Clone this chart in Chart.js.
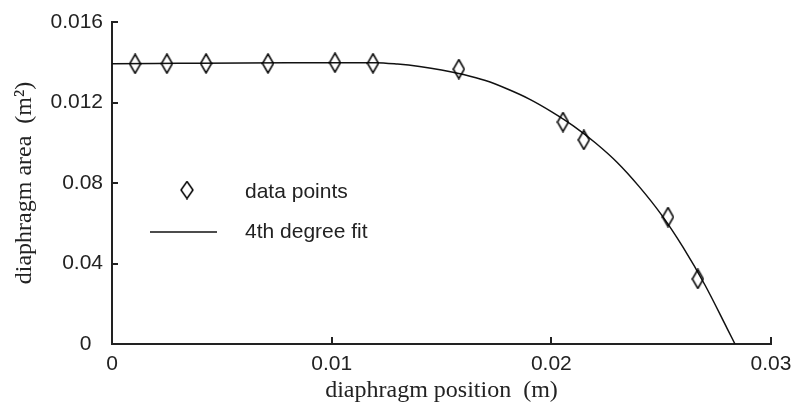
<!DOCTYPE html>
<html lang="en">
<head>
<meta charset="UTF-8">
<title>Diaphragm area vs position</title>
<script src="https://cdn.jsdelivr.net/npm/chart.js"></script>
<style>
  html, body { margin: 0; padding: 0; background: #fff; }
  #wrap { width: 793px; height: 407px; }
</style>
</head>
<body>
<div id="wrap"><canvas id="chart"></canvas></div>
<script>
// measured points
const pointX = [0.00105, 0.0025, 0.00428, 0.0071, 0.01015, 0.01188, 0.01579, 0.02053, 0.02148, 0.02531, 0.02667];
const pointY = [0.01392, 0.01393, 0.01394, 0.01394, 0.01398, 0.01395, 0.01366, 0.01103, 0.01014, 0.00631, 0.00323];

// 4th degree fit
const fitX = [0, 0.002, 0.004, 0.006, 0.008, 0.010, 0.012, 0.013, 0.014, 0.015, 0.016, 0.017, 0.018, 0.019, 0.020,
              0.021, 0.022, 0.023, 0.024, 0.025, 0.026, 0.027, 0.028, 0.02836];
const fitY = [0.01393, 0.01394, 0.01395, 0.01396, 0.01397, 0.01398, 0.01398, 0.01391, 0.01379, 0.01362, 0.01339, 0.01309, 0.01267, 0.01217, 0.01155,
              0.01084, 0.01000, 0.00902, 0.00782, 0.00644, 0.00480, 0.00292, 0.00078, 0];

const xTicks = [0, 0.01, 0.02, 0.03];
const xTickLabels = ['0', '0.01', '0.02', '0.03'];
const yTicks = [0, 0.004, 0.008, 0.012, 0.016];
const yTickLabels = ['0', '0.04', '0.08', '0.012', '0.016'];

const seriesNames = ['data points', '4th degree fit'];

// tall narrow diamond marker
function makeDiamond(w, h) {
    const c = document.createElement('canvas');
    c.width = w + 2;
    c.height = h + 2;
    const g = c.getContext('2d');
    g.strokeStyle = '#000';
    g.lineWidth = 1.5;
    g.beginPath();
    g.moveTo(c.width / 2, 1);
    g.lineTo(c.width - 1, c.height / 2);
    g.lineTo(c.width / 2, c.height - 1);
    g.lineTo(1, c.height / 2);
    g.closePath();
    g.stroke();
    return c;
}
const diamond = makeDiamond(11, 19);
const legendDiamond = makeDiamond(12, 17);

const tickFont = { family: '"Liberation Sans", Arial, sans-serif', size: 21 };
const titleFont = { family: '"Liberation Serif", "Times New Roman", serif', size: 24 };

const inwardTicks = {
    id: 'inwardTicks',
    afterDraw(chart) {
        const ctx = chart.ctx;
        const xs = chart.scales.x, ys = chart.scales.y;
        const area = chart.chartArea;
        ctx.save();
        ctx.strokeStyle = '#222';
        ctx.lineWidth = 2;
        ctx.beginPath();
        xTicks.forEach(v => {
            const px = Math.round(xs.getPixelForValue(v));
            ctx.moveTo(px, area.bottom);
            ctx.lineTo(px, area.bottom - 7);
        });
        yTicks.forEach(v => {
            const py = Math.round(ys.getPixelForValue(v));
            ctx.moveTo(area.left, py);
            ctx.lineTo(area.left + 6, py);
        });
        ctx.stroke();
        ctx.restore();
    }
};

const boxLegend = {
    id: 'boxLegend',
    afterDraw(chart) {
        const ctx = chart.ctx;
        const a = chart.chartArea;
        ctx.save();
        ctx.font = '21px "Liberation Sans", Arial, sans-serif';
        ctx.fillStyle = '#222';
        ctx.textBaseline = 'middle';
        // data points
        ctx.drawImage(legendDiamond, a.left + 75 - legendDiamond.width / 2, a.top + 168 - legendDiamond.height / 2);
        ctx.fillText(seriesNames[0], a.left + 133, a.top + 170);
        // fit line
        ctx.strokeStyle = '#111';
        ctx.lineWidth = 1.5;
        ctx.beginPath();
        ctx.moveTo(a.left + 38, a.top + 210);
        ctx.lineTo(a.left + 105, a.top + 210);
        ctx.stroke();
        ctx.fillText(seriesNames[1], a.left + 133, a.top + 210);
        ctx.restore();
    }
};

new Chart(document.getElementById('chart'), {
    type: 'scatter',
    data: {
        datasets: [{
            label: seriesNames[0],
            data: pointX.map((x, i) => ({ x: x, y: pointY[i] })),
            pointStyle: diamond,
            pointRadius: 9,
            showLine: false
        }, {
            label: seriesNames[1],
            data: fitX.map((x, i) => ({ x: x, y: fitY[i] })),
            showLine: true,
            borderColor: '#111',
            borderWidth: 1.5,
            pointRadius: 0,
            cubicInterpolationMode: 'monotone'
        }]
    },
    options: {
        responsive: true,
        maintainAspectRatio: false,
        animation: false,
        layout: { padding: { top: 22, right: 22, left: 0, bottom: 0 } },
        plugins: {
            legend: { display: false },
            tooltip: { enabled: false }
        },
        scales: {
            x: {
                type: 'linear',
                min: 0,
                max: 0.03,
                afterBuildTicks(scale) { scale.ticks = xTicks.map(v => ({ value: v })); },
                afterFit(scale) {
                    scale.height = 63;
                    scale.paddingRight = 0;
                },
                grid: { drawOnChartArea: false, drawTicks: false },
                border: { display: true, color: '#222', width: 2 },
                ticks: {
                    font: tickFont,
                    color: '#222',
                    padding: 8,
                    maxRotation: 0,
                    callback: (v, i) => xTickLabels[i]
                },
                title: {
                    display: true,
                    text: 'diaphragm position  (m)',
                    font: titleFont,
                    color: '#222',
                    padding: { top: 0, bottom: 2 }
                }
            },
            y: {
                type: 'linear',
                min: 0,
                max: 0.016,
                afterBuildTicks(scale) { scale.ticks = yTicks.map(v => ({ value: v })); },
                afterFit(scale) { scale.width = 112; },
                grid: { drawOnChartArea: false, drawTicks: false },
                border: { display: true, color: '#222', width: 2 },
                ticks: {
                    font: tickFont,
                    color: '#222',
                    padding: 9,
                    // the zero label sits a little left of the others
                    callback: (v, i) => i === 0 ? yTickLabels[i] + '  ' : yTickLabels[i]
                },
                title: {
                    display: true,
                    text: 'diaphragm area  (m²)',
                    font: titleFont,
                    color: '#222',
                    padding: { top: 10, bottom: 0 }
                }
            }
        }
    },
    plugins: [inwardTicks, boxLegend]
});
</script>
</body>
</html>
